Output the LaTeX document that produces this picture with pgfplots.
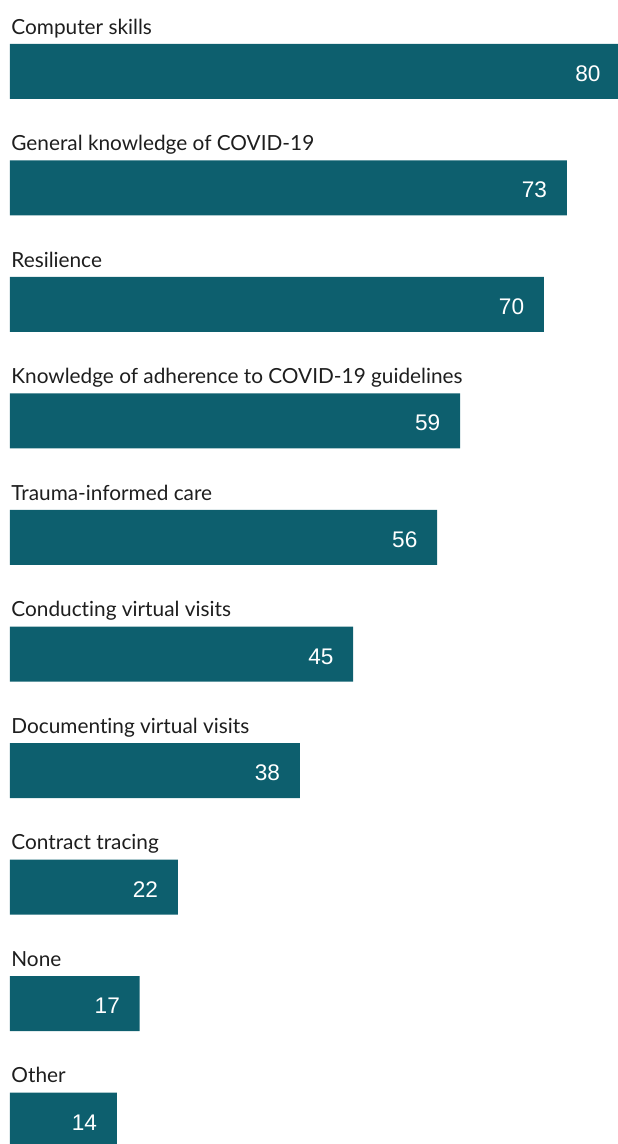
\documentclass[border=0pt]{standalone}
\usepackage{pgfplots}
\pgfplotsset{compat=1.18}
\usepackage{fontspec}
\setmainfont{Lato}[Ligatures=NoCommon]
\newfontfamily\valfont{Liberation Sans}
\definecolor{barteal}{RGB}{13,95,110}
\definecolor{labelgray}{RGB}{30,30,30}
\begin{document}
\begin{tikzpicture}
\useasboundingbox (0,0) rectangle (308.5pt,572pt);
\begin{axis}[
  at={(5pt,-17.125pt)}, anchor=south west,
  scale only axis,
  width=305.1pt, height=582.5pt,
  xmin=0, xmax=80,
  ymin=-0.5, ymax=9.5,
  y dir=reverse,
  hide axis,
  clip=false,
  /pgf/number format/assume math mode=true,
  xbar, bar width=27.5pt, bar shift=0pt,
  nodes near coords,
  every node near coord/.style={anchor=base east, xshift=-9.7pt, yshift=-5pt, inner sep=0pt, text=white, font=\valfont\fontsize{11.3}{12}\selectfont},
]
\addplot[fill=barteal, draw=none] coordinates {
(80,0) (73,1) (70,2) (59,3) (56,4) (45,5) (38,6) (22,7) (17,8) (14,9)
};
\tikzset{lab/.style={anchor=base west, inner sep=0pt, xshift=0.5pt, text=labelgray, font=\fontsize{10.4}{12}\selectfont}}
\node[lab] at (axis cs:0,-0.318) {Computer skills};
\node[lab] at (axis cs:0,0.682) {General knowledge of COVID-19};
\node[lab] at (axis cs:0,1.682) {Resilience};
\node[lab] at (axis cs:0,2.682) {Knowledge of adherence to COVID-19 guidelines};
\node[lab] at (axis cs:0,3.682) {Trauma-informed care};
\node[lab] at (axis cs:0,4.682) {Conducting virtual visits};
\node[lab] at (axis cs:0,5.682) {Documenting virtual visits};
\node[lab] at (axis cs:0,6.682) {Contract tracing};
\node[lab] at (axis cs:0,7.682) {None};
\node[lab] at (axis cs:0,8.682) {Other};
\end{axis}
\end{tikzpicture}
\end{document}
